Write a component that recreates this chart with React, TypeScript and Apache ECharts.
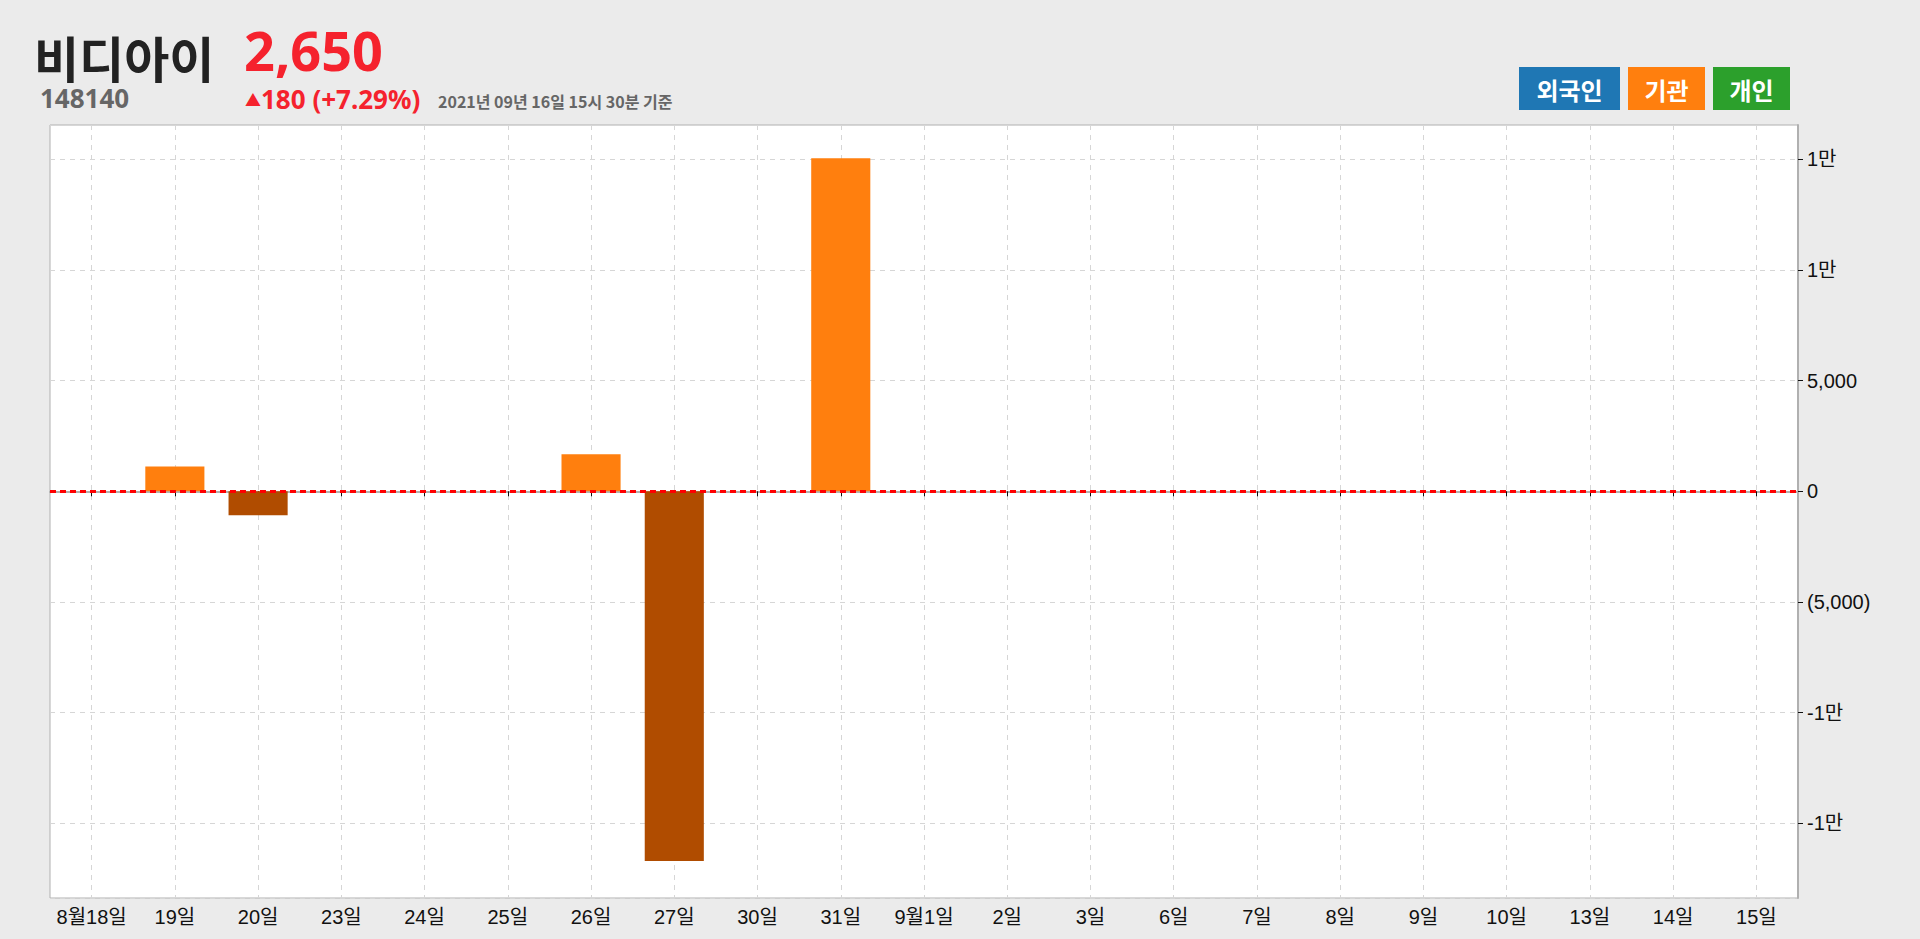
import React, { useEffect, useRef } from "react";
import * as echarts from "echarts";

const dates = [
  "8월18일", "19일", "20일", "23일", "24일", "25일", "26일", "27일", "30일", "31일",
  "9월1일", "2일", "3일", "6일", "7일", "8일", "9일", "10일", "13일", "14일", "15일",
];
// 기관 순매수 (주)
const institution = [
  0, 1115, -1085, 0, 0, 0, 1670, -16700, 0, 15040,
  0, 0, 0, 0, 0, 0, 0, 0, 0, 0, 0,
];
const legendNames = ["외국인", "기관", "개인"];
const legendColors = ["#1f77b4", "#ff7f0e", "#2ca02c"];

const stockName = "비디아이";
const stockCode = "148140";
const price = "2,650";
const change = "180 (+7.29%)";
const asOf = "2021년 09년 16일 15시 30분 기준";

const CJK = "'Noto Sans CJK KR', 'Noto Sans', sans-serif";
const LAT = "'Liberation Sans', 'Noto Sans CJK KR', sans-serif";

function fmtY(v: number): string {
  if (v === 0) return "0";
  const a = Math.abs(v);
  if (a >= 10000) return (v < 0 ? "-" : "") + Math.trunc(a / 10000) + "만";
  const s = a.toLocaleString("en-US");
  return v < 0 ? "(" + s + ")" : s;
}

export default function App() {
  const ref = useRef<HTMLDivElement>(null);
  useEffect(() => {
    if (!ref.current) return;
    const chart = echarts.init(ref.current, undefined, { renderer: "svg" });
    const legendBoxes: any[] = [];
    const boxX = [1519, 1628, 1713];
    const boxW = [101, 77, 77];
    legendNames.forEach((n, i) => {
      legendBoxes.push({
        type: "rect",
        shape: { x: boxX[i], y: 67, width: boxW[i], height: 43 },
        style: { fill: legendColors[i] },
      });
      legendBoxes.push({
        type: "text",
        x: boxX[i] + boxW[i] / 2,
        y: 89,
        style: {
          text: n,
          fill: "#fff",
          font: `bold 24px ${CJK}`,
          align: "center",
          verticalAlign: "middle",
        },
      });
    });
    chart.setOption({
      animation: false,
      backgroundColor: "#ebebeb",
      grid: {
        left: 50,
        right: 122,
        top: 125,
        bottom: 41,
        show: true,
        backgroundColor: "#ffffff",
        borderColor: "#b0b0b0",
        borderWidth: 1,
      },
      xAxis: {
        type: "category",
        data: dates,
        boundaryGap: true,
        axisLine: { show: true, lineStyle: { color: "#b0b0b0", width: 2 } },
        axisTick: { show: true, alignWithLabel: true, length: 5, lineStyle: { color: "#111" } },
        axisLabel: { color: "#111", fontSize: 20, fontFamily: LAT, margin: 9, interval: 0 },
        splitLine: {
          show: true,
          alignWithLabel: true,
          lineStyle: { color: "#d6d6d6", type: [5, 5], width: 1 },
        } as any,
      },
      yAxis: {
        type: "value",
        position: "right",
        min: (v: any) => v.min * 1.1,
        max: (v: any) => v.max * 1.1,
        splitNumber: 6,
        axisLine: { show: true, lineStyle: { color: "#b0b0b0", width: 2 } },
        axisTick: { show: true, length: 5, lineStyle: { color: "#111" } },
        axisLabel: {
          color: "#111",
          fontSize: 20,
          fontFamily: LAT,
          margin: 9,
          showMinLabel: false,
          showMaxLabel: false,
          formatter: (v: number) => fmtY(v),
        },
        splitLine: { show: true, lineStyle: { color: "#d6d6d6", type: [5, 5], width: 1 } },
      },
      series: [
        {
          name: "기관",
          type: "bar",
          data: institution,
          barWidth: "71%",
          itemStyle: {
            color: (p: any) => (p.value >= 0 ? "#ff7f0e" : "#b04c00"),
          },
          markLine: {
            silent: true,
            symbol: "none",
            label: { show: false },
            lineStyle: { color: "#ff0000", type: [6, 4], width: 3 },
            data: [{ yAxis: 0 }],
          },
        },
      ],
      graphic: [
        {
          type: "text",
          x: 34,
          y: 56,
          style: {
            text: stockName,
            fill: "#222",
            font: `bold 49px ${CJK}`,
            lineHeight: 44,
            verticalAlign: "middle",
          },
        },
        {
          type: "text",
          x: 244,
          y: 50,
          style: {
            text: price,
            fill: "#f5222d",
            font: `bold 54px 'Noto Sans', sans-serif`,
            lineHeight: 42,
            verticalAlign: "middle",
          },
        },
        {
          type: "text",
          x: 40,
          y: 98,
          style: {
            text: stockCode,
            fill: "#666",
            font: `bold 26px 'Noto Sans', sans-serif`,
            lineHeight: 22,
            verticalAlign: "middle",
          },
        },
        {
          type: "text",
          x: 245,
          y: 99,
          style: {
            text: "{t|▲}{n|" + change + "}",
            verticalAlign: "middle",
            lineHeight: 24,
            rich: {
              t: { fill: "#f5222d", font: `16px ${CJK}`, lineHeight: 24 },
              n: { fill: "#f5222d", font: `bold 26px 'Noto Sans', sans-serif`, lineHeight: 24 },
            },
          },
        },
        {
          type: "text",
          x: 438,
          y: 101,
          style: {
            text: asOf,
            fill: "#666",
            font: `bold 16px ${CJK}`,
            lineHeight: 18,
            verticalAlign: "middle",
          },
        },
        ...legendBoxes,
      ],
    });
    return () => chart.dispose();
  }, []);
  return (
    <div
      ref={ref}
      style={{ position: "fixed", left: 0, top: 0, width: 1920, height: 939 }}
    />
  );
}
